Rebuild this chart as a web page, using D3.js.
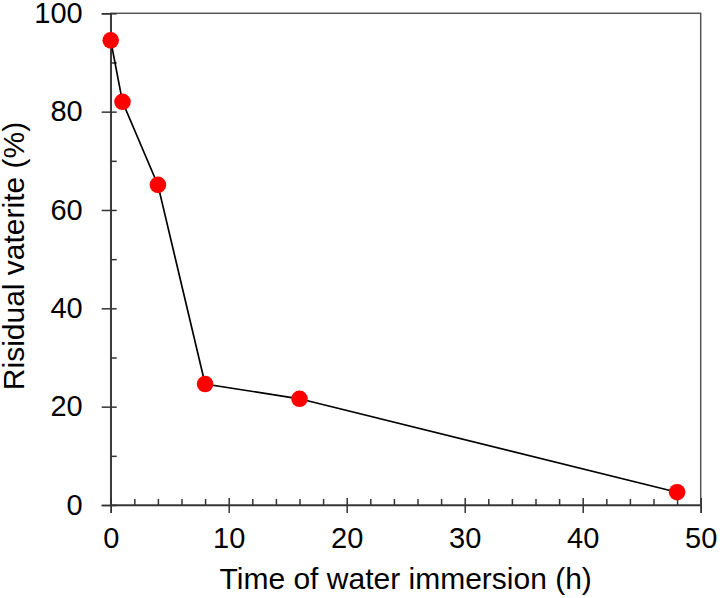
<!DOCTYPE html>
<html>
<head>
<meta charset="utf-8">
<script src="https://cdn.jsdelivr.net/npm/d3@7"></script>
<style>
  body { margin: 0; background: #fff; }
  text { font-family: "Liberation Sans", Arial, sans-serif; fill: #000; }
</style>
</head>
<body>
<svg width="720" height="598"></svg>
<script>
// data
let hours = [0, 1, 4, 8, 16, 48];
let vaterite = [94.5, 82, 65.1, 24.6, 21.6, 2.6];
let xMajor = [0, 10, 20, 30, 40, 50];
let yMajor = [0, 20, 40, 60, 80, 100];
let xMinor = [2, 4, 6, 8, 12, 14, 16, 18, 22, 24, 26, 28, 32, 34, 36, 38, 42, 44, 46, 48];
let yMinor = [10, 30, 50, 70, 90];

let svg = d3.select("svg"),
    width = +svg.attr("width"),
    height = +svg.attr("height");

// plot box edges
let pL = 110.7, pR = 700.7, pT = 13.3, pB = 505;

let x = d3.scaleLinear().domain([0, 50]).range([pL, pR]);
let y = d3.scaleLinear().domain([0, 100]).range([pB, pT]);

let axisColor = "#333";
let fs = "29px";

// box
svg.append("rect")
    .attr("x", pL).attr("y", pT)
    .attr("width", pR - pL).attr("height", pB - pT)
    .attr("fill", "none").attr("stroke", "#555").attr("stroke-width", 1.5);

// x axis
let gx = svg.append("g")
    .attr("transform", "translate(0," + pB + ")")
    .call(d3.axisBottom(x).tickValues(xMajor).tickSize(8).tickPadding(14).tickFormat(d3.format("d")));
gx.selectAll("line").attr("y1", -7);
let gxm = svg.append("g")
    .attr("transform", "translate(0," + pB + ")")
    .call(d3.axisBottom(x).tickValues(xMinor).tickSize(-6).tickFormat(""));
gxm.select(".domain").remove();

// y axis
let gy = svg.append("g")
    .attr("transform", "translate(" + pL + ",0)")
    .call(d3.axisLeft(y).tickValues(yMajor).tickSize(9).tickPadding(19).tickFormat(d3.format("d")));
gy.selectAll("line").attr("x1", 6);
let gym = svg.append("g")
    .attr("transform", "translate(" + pL + ",0)")
    .call(d3.axisLeft(y).tickValues(yMinor).tickSize(-6).tickFormat(""));
gym.select(".domain").remove();

svg.selectAll(".tick line").attr("stroke", axisColor).attr("stroke-width", 1.5);
svg.selectAll(".domain").attr("stroke", axisColor).attr("stroke-width", 1.5);
svg.selectAll(".tick text").style("font-size", fs).attr("fill", "#000");

// line and points
let pts = hours.map((h, i) => [h, vaterite[i]]);
svg.append("path")
    .datum(pts)
    .attr("d", d3.line().x(d => x(d[0])).y(d => y(d[1])))
    .attr("fill", "none").attr("stroke", "#000").attr("stroke-width", 1.7);

svg.append("g")
    .selectAll("circle")
    .data(pts)
    .enter()
    .append("circle")
    .attr("cx", d => x(d[0]))
    .attr("cy", d => y(d[1]))
    .attr("r", 8.3)
    .attr("fill", "#ff0000");

// titles
svg.append("text")
    .attr("x", (pL + pR) / 2).attr("y", 589)
    .attr("text-anchor", "middle")
    .style("font-size", "30px")
    .text("Time of water immersion (h)");

svg.append("text")
    .attr("transform", "translate(24,256) rotate(-90)")
    .attr("text-anchor", "middle")
    .style("font-size", "30px")
    .text("Risidual vaterite (%)");
</script>
</body>
</html>
